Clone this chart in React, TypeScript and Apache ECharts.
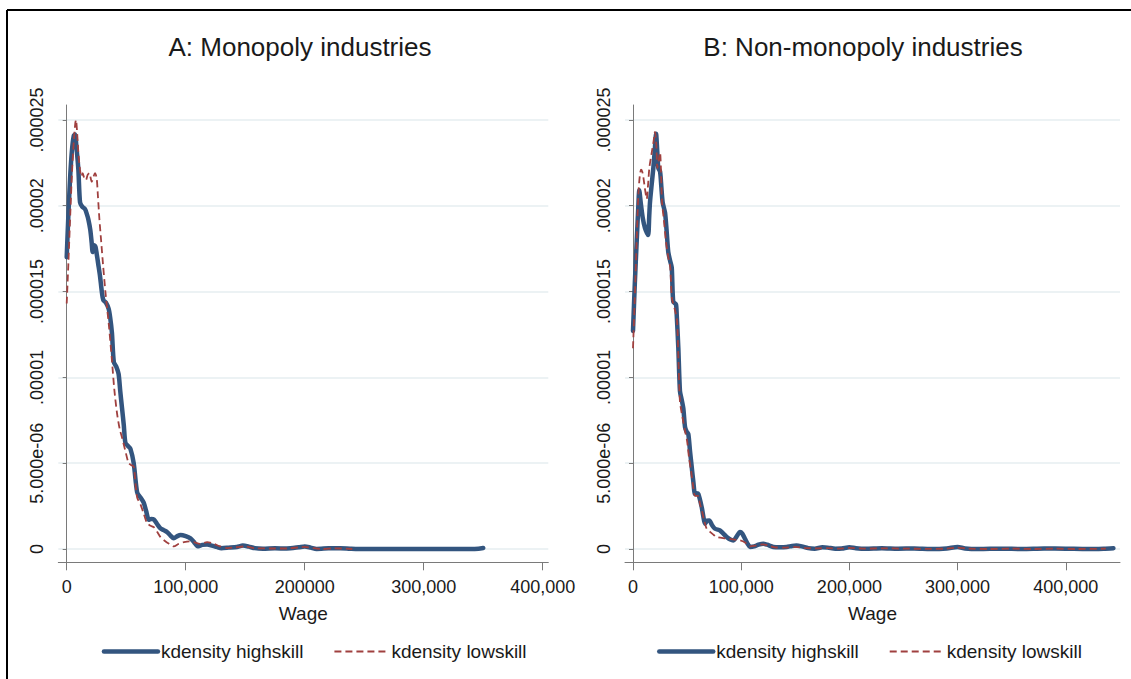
import React, { useEffect, useRef } from 'react';
import * as echarts from 'echarts';

// Panel A: Monopoly industries — [wage, density]
const monoHigh: [number, number][] = [
  [0, 17.0e-6], [1500, 19.6e-6], [3000, 21.8e-6], [4500, 23.3e-6], [6000, 24.1e-6], [7000, 24.15e-6],
  [8200, 23.4e-6], [9800, 22.1e-6], [11200, 20.2e-6], [13000, 19.95e-6], [15400, 19.8e-6], [17000, 19.5e-6],
  [18200, 19.2e-6], [19800, 18.6e-6], [21000, 17.85e-6], [21800, 17.3e-6], [23200, 17.7e-6], [24200, 17.6e-6],
  [25200, 17.2e-6], [26500, 16.6e-6], [28000, 15.9e-6], [29500, 15.0e-6], [30800, 14.5e-6], [33000, 14.35e-6],
  [35200, 14.0e-6], [36500, 13.5e-6], [38000, 12.6e-6], [39600, 10.9e-6], [41800, 10.6e-6], [43600, 10.2e-6],
  [45000, 9.2e-6], [46500, 8.2e-6], [48000, 7.2e-6], [49300, 6.2e-6], [51500, 6.0e-6], [53500, 5.85e-6],
  [56300, 5.0e-6], [59200, 3.3e-6], [62000, 3.0e-6], [64700, 2.7e-6], [66800, 2.2e-6], [69000, 1.7e-6],
  [71000, 1.75e-6], [73200, 1.72e-6], [76000, 1.45e-6], [78800, 1.2e-6], [81500, 1.1e-6], [84500, 0.98e-6],
  [87000, 0.8e-6], [90000, 0.62e-6], [93000, 0.75e-6], [95700, 0.82e-6], [100000, 0.75e-6], [104000, 0.62e-6],
  [107000, 0.4e-6], [110000, 0.16e-6], [114000, 0.24e-6], [118000, 0.26e-6], [122000, 0.2e-6], [126000, 0.12e-6],
  [130000, 0.05e-6], [136000, 0.08e-6], [143000, 0.12e-6], [148000, 0.2e-6], [153000, 0.14e-6], [158000, 0.05e-6],
  [165000, 0.02e-6], [175000, 0.04e-6], [185000, 0.03e-6], [195000, 0.1e-6], [200000, 0.15e-6], [205000, 0.08e-6],
  [210000, 0.0], [220000, 0.04e-6], [230000, 0.05e-6], [238000, 0.02e-6], [245000, 0.0], [260000, 0.0],
  [280000, 0.0], [300000, 0.0], [320000, 0.0], [340000, 0.0], [346000, 0.02e-6], [350000, 0.06e-6],
];

const monoLow: [number, number][] = [
  [0, 14.3e-6], [1500, 16.8e-6], [3000, 19.5e-6], [4500, 22.0e-6], [6000, 23.8e-6], [7200, 24.8e-6],
  [7800, 25.0e-6], [9000, 24.0e-6], [10000, 22.9e-6], [11200, 22.1e-6], [12300, 21.7e-6], [13400, 21.9e-6],
  [14800, 21.6e-6], [16200, 21.5e-6], [17600, 21.8e-6], [19000, 21.9e-6], [21000, 21.4e-6], [22500, 21.7e-6],
  [23800, 21.9e-6], [25200, 21.6e-6], [26200, 20.6e-6], [27500, 19.2e-6], [29000, 17.9e-6], [30500, 16.6e-6],
  [32500, 15.0e-6], [34000, 14.0e-6], [35500, 13.0e-6], [38000, 11.0e-6], [40000, 9.3e-6], [42300, 7.9e-6],
  [44500, 7.0e-6], [46500, 6.5e-6], [49000, 5.8e-6], [52000, 5.0e-6], [54000, 4.9e-6], [56300, 4.8e-6],
  [57800, 3.8e-6], [59200, 3.0e-6], [62000, 2.6e-6], [65000, 2.0e-6], [67600, 1.5e-6], [70500, 1.35e-6],
  [73200, 1.27e-6], [76000, 1.0e-6], [78800, 0.69e-6], [82000, 0.5e-6], [86000, 0.3e-6], [90000, 0.15e-6],
  [94000, 0.3e-6], [98500, 0.4e-6], [103000, 0.45e-6], [107000, 0.4e-6], [112000, 0.3e-6], [118000, 0.4e-6],
  [123000, 0.32e-6], [129000, 0.15e-6], [135000, 0.05e-6], [142000, 0.1e-6], [150000, 0.15e-6], [158000, 0.05e-6],
  [170000, 0.03e-6], [185000, 0.03e-6], [195000, 0.1e-6], [200000, 0.12e-6], [207000, 0.05e-6], [215000, 0.0],
  [225000, 0.04e-6], [235000, 0.02e-6], [240000, 0.0],
];

// Panel B: Non-monopoly industries — [wage, density]
const nonHigh: [number, number][] = [
  [0, 12.7e-6], [1700, 15.5e-6], [3400, 17.9e-6], [4800, 19.8e-6], [5800, 20.9e-6], [7100, 20.2e-6],
  [9000, 19.3e-6], [11100, 18.7e-6], [13000, 18.4e-6], [14100, 18.3e-6], [15000, 19.4e-6], [15700, 20.2e-6],
  [17200, 21.2e-6], [18800, 22.2e-6], [20200, 23.3e-6], [21300, 24.2e-6], [22400, 23.2e-6], [23400, 22.2e-6],
  [25000, 22.0e-6], [26200, 21.1e-6], [27400, 20.2e-6], [29600, 19.6e-6], [31000, 18.6e-6], [32600, 17.3e-6],
  [34300, 16.8e-6], [35800, 16.4e-6], [37200, 14.4e-6], [39700, 14.25e-6], [40400, 13.65e-6], [41900, 11.7e-6],
  [43400, 9.2e-6], [45000, 8.7e-6], [46500, 8.2e-6], [48100, 7.1e-6], [49500, 6.85e-6], [51100, 6.7e-6],
  [52700, 5.7e-6], [54300, 4.76e-6], [55800, 3.9e-6], [57300, 3.2e-6], [58800, 3.25e-6], [60400, 3.2e-6],
  [63500, 2.44e-6], [65000, 1.9e-6], [66500, 1.47e-6], [68500, 1.65e-6], [70500, 1.66e-6], [73000, 1.4e-6],
  [75800, 1.18e-6], [80400, 1.08e-6], [83500, 0.9e-6], [86600, 0.7e-6], [90000, 0.55e-6], [92700, 0.5e-6],
  [95500, 0.7e-6], [98900, 0.99e-6], [101000, 0.9e-6], [103500, 0.6e-6], [106000, 0.3e-6], [108100, 0.12e-6],
  [112000, 0.15e-6], [116000, 0.25e-6], [120400, 0.31e-6], [124000, 0.25e-6], [129700, 0.12e-6], [136000, 0.1e-6],
  [142000, 0.12e-6], [147000, 0.18e-6], [151000, 0.2e-6], [156000, 0.15e-6], [162000, 0.05e-6], [168000, 0.02e-6],
  [175000, 0.1e-6], [180000, 0.08e-6], [187000, 0.02e-6], [193000, 0.03e-6], [200000, 0.1e-6], [206000, 0.05e-6],
  [215000, 0.02e-6], [230000, 0.05e-6], [245000, 0.02e-6], [260000, 0.03e-6], [275000, 0.0], [290000, 0.03e-6],
  [300000, 0.12e-6], [307000, 0.03e-6], [320000, 0.0], [340000, 0.02e-6], [360000, 0.0], [380000, 0.03e-6],
  [400000, 0.02e-6], [420000, 0.0], [435000, 0.02e-6], [444000, 0.05e-6],
];

const nonLow: [number, number][] = [
  [0, 11.7e-6], [1600, 14.5e-6], [3200, 17.6e-6], [4900, 20.6e-6], [6200, 21.7e-6], [7400, 22.1e-6],
  [8500, 22.0e-6], [9500, 21.7e-6], [11000, 21.0e-6], [12700, 20.4e-6], [13900, 21.2e-6], [15100, 22.2e-6],
  [17300, 23.1e-6], [18900, 23.7e-6], [20300, 24.3e-6], [21500, 23.6e-6], [22500, 22.2e-6], [23600, 22.6e-6],
  [25000, 23.1e-6], [26000, 21.8e-6], [26800, 20.2e-6], [28500, 19.2e-6], [30500, 17.9e-6], [32600, 17.0e-6],
  [34300, 16.5e-6], [36000, 14.6e-6], [38500, 14.0e-6], [40700, 13.3e-6], [42000, 11.0e-6], [43400, 8.6e-6],
  [46200, 7.5e-6], [48000, 6.9e-6], [50000, 6.3e-6], [51800, 5.3e-6], [53600, 4.6e-6], [55500, 3.7e-6],
  [57300, 3.1e-6], [60000, 3.1e-6], [62000, 2.6e-6], [63800, 2.2e-6], [66000, 1.6e-6], [68100, 1.18e-6],
  [71200, 1.0e-6], [74000, 0.85e-6], [77400, 0.7e-6], [85000, 0.62e-6], [92400, 0.56e-6], [98900, 0.5e-6],
  [103500, 0.38e-6], [108100, 0.15e-6], [114000, 0.2e-6], [120000, 0.27e-6], [125000, 0.2e-6], [131000, 0.1e-6],
  [140000, 0.08e-6], [150000, 0.12e-6], [158000, 0.06e-6], [170000, 0.04e-6], [180000, 0.05e-6], [190000, 0.02e-6],
  [200000, 0.06e-6], [215000, 0.02e-6], [230000, 0.04e-6], [250000, 0.02e-6], [270000, 0.01e-6], [290000, 0.02e-6],
  [300000, 0.08e-6], [310000, 0.02e-6], [330000, 0.0], [350000, 0.02e-6], [370000, 0.0], [390000, 0.02e-6],
  [410000, 0.0], [437000, 0.02e-6],
];

const panelTitles = ['A: Monopoly industries', 'B: Non-monopoly industries'];
const seriesNames = ['kdensity highskill', 'kdensity lowskill'];
const xAxisTitle = 'Wage';

const xTickValues = [0, 100000, 200000, 300000, 400000];
const xTickLabelsA = ['0', '100,000', '200000', '300,000', '400,000'];
const xTickLabelsB = ['0', '100,000', '200,000', '300,000', '400,000'];

const yTickValues = [0, 5e-6, 10e-6, 15e-6, 20e-6, 25e-6];
const yTickLabels = ['0', '5.000e-06', '.00001', '.000015', '.00002', '.000025'];

const FONT = '"Liberation Sans", Arial, Helvetica, sans-serif';
const BLUE = '#33557f';
const RED = '#a0403f';
const GRID_LINE = '#e6eef1';
const AXIS = '#7a7a7a';

export default function App() {
  const ref = useRef<HTMLDivElement>(null);

  useEffect(() => {
    if (!ref.current) return;
    const chart = echarts.init(ref.current, null, { renderer: 'svg' });

    const yMin = -0.775e-6;
    const yMax = 25.87e-6;

    const makeX = (gridIndex: number, min: number, max: number, labels: string[]) => ({
      type: 'value',
      gridIndex,
      min,
      max,
      name: xAxisTitle,
      nameLocation: 'middle',
      nameGap: 42,
      nameTextStyle: { fontFamily: FONT, fontSize: 19, color: '#1a1a1a' },
      axisLine: { show: true, onZero: false, lineStyle: { color: AXIS, width: 1 } },
      axisTick: { show: true, length: 8, customValues: xTickValues, lineStyle: { color: AXIS } },
      axisLabel: {
        customValues: xTickValues,
        margin: 16,
        fontFamily: FONT,
        fontSize: 18,
        color: '#1a1a1a',
        formatter: (v: number) => {
          const i = xTickValues.indexOf(v);
          return i >= 0 ? labels[i] : '';
        },
      },
      splitLine: { show: false },
    });

    const makeY = (gridIndex: number) => ({
      type: 'value',
      gridIndex,
      min: yMin,
      max: yMax,
      axisLine: { show: true, lineStyle: { color: AXIS, width: 1 } },
      axisTick: { show: true, length: 4, customValues: yTickValues, lineStyle: { color: AXIS } },
      axisLabel: {
        customValues: yTickValues,
        rotate: 90,
        margin: 12,
        fontFamily: FONT,
        fontSize: 18,
        color: '#1a1a1a',
        formatter: (v: number) => {
          let best = 0;
          let bd = Infinity;
          yTickValues.forEach((t, i) => {
            const d = Math.abs(t - v);
            if (d < bd) { bd = d; best = i; }
          });
          return bd < 1e-9 ? yTickLabels[best] : '';
        },
      },
      splitLine: { show: true, lineStyle: { color: GRID_LINE, width: 1.5 } },
    });

    const highStyle = { color: BLUE, width: 4.5, cap: 'round', join: 'round' };
    const lowStyle = { color: RED, width: 1.8, type: [7, 4] };

    const mkSeries = (name: string, data: [number, number][], idx: number, style: any, z: number) => ({
      type: 'line',
      name,
      xAxisIndex: idx,
      yAxisIndex: idx,
      data,
      symbol: 'none',
      smooth: 0.25,
      lineStyle: style,
      itemStyle: { color: style.color },
      z,
    });

    const legendCommon = {
      top: 642,
      itemWidth: 54,
      itemHeight: 20,
      itemGap: 30,
      padding: 0,
      textStyle: { fontFamily: FONT, fontSize: 19, color: '#1a1a1a', padding: [0, 0, 0, -2] },
      itemStyle: { opacity: 0 },
      lineStyle: { width: 'inherit' },
      data: seriesNames,
      selectedMode: false,
    };

    chart.setOption({
      animation: false,
      backgroundColor: '#ffffff',
      title: [
        {
          text: panelTitles[0], left: 295, top: 29, textAlign: 'center',
          textStyle: { fontFamily: FONT, fontSize: 26, fontWeight: 'normal', color: '#1a1a1a' },
        },
        {
          text: panelTitles[1], left: 858, top: 29, textAlign: 'center',
          textStyle: { fontFamily: FONT, fontSize: 26, fontWeight: 'normal', color: '#1a1a1a' },
        },
      ],
      grid: [
        { left: 58.3, top: 105, width: 490, height: 457.3, containLabel: false },
        { left: 625, top: 105, width: 495, height: 457.3, containLabel: false },
      ],
      xAxis: [
        makeX(0, -7060, 404700, xTickLabelsA),
        makeX(1, -7394, 450100, xTickLabelsB),
      ],
      yAxis: [makeY(0), makeY(1)],
      legend: [
        { ...legendCommon, left: 101.7 },
        { ...legendCommon, left: 657 },
      ],
      graphic: [
        { type: 'line', shape: { x1: 7, y1: 10, x2: 1131, y2: 10 }, style: { stroke: '#000', lineWidth: 2 } },
        { type: 'line', shape: { x1: 7, y1: 10, x2: 7, y2: 679 }, style: { stroke: '#000', lineWidth: 2 } },
      ],
      series: [
        mkSeries(seriesNames[0], monoHigh, 0, highStyle, 2),
        mkSeries(seriesNames[1], monoLow, 0, lowStyle, 3),
        mkSeries(seriesNames[0], nonHigh, 1, highStyle, 2),
        mkSeries(seriesNames[1], nonLow, 1, lowStyle, 3),
      ],
    });

    return () => chart.dispose();
  }, []);

  return (
    <div
      ref={ref}
      style={{ position: 'fixed', left: 0, top: 0, width: 1131, height: 679, background: '#fff' }}
    />
  );
}
